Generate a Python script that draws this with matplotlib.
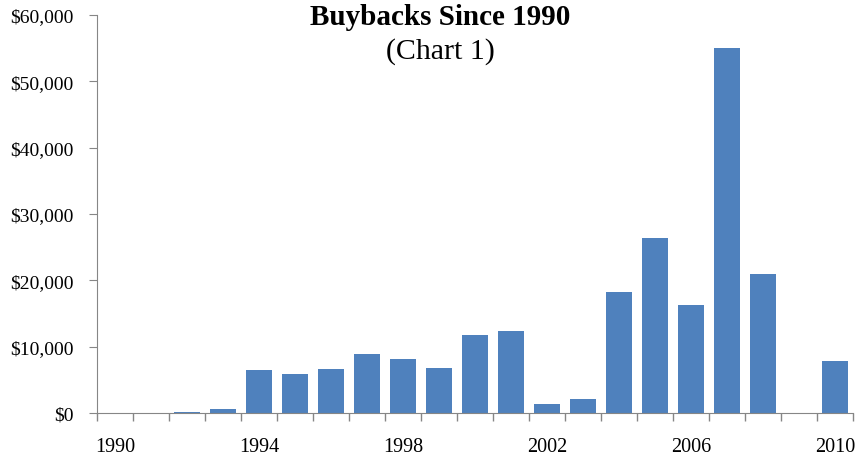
import numpy as np
import matplotlib.pyplot as plt
from matplotlib.ticker import FuncFormatter

# Buybacks per year
years = list(range(1990, 2011))
buybacks = [0, 0, 200, 600, 6500, 5900, 6600, 8900, 8100, 6800,
            11700, 12300, 1300, 2100, 18300, 26400, 16300, 55000, 21000, 0, 7800]
label_years = [1990, 1994, 1998, 2002, 2006, 2010]

plt.rcParams['font.family'] = ['Liberation Serif', 'DejaVu Serif']

fig = plt.figure(figsize=(8.59, 4.56), dpi=100)
ax = fig.add_axes([0.1129, 0.0921, 0.8801, 0.8729])

x = np.arange(len(years))
ax.bar(x, buybacks, width=0.7, color='#4F81BD')

ax.set_xlim(-0.5, len(years) - 0.5)
ax.set_ylim(0, 60000)
ax.set_yticks(range(0, 60001, 10000))
ax.yaxis.set_major_formatter(FuncFormatter(lambda v, p: f'${v:,.0f}'))

# category boundaries get tick marks, labels every 4 years
ax.set_xticks([years.index(y) for y in label_years])
ax.set_xticklabels([str(y) for y in label_years])
ax.set_xticks(np.arange(-0.5, len(years)), minor=True)
ax.tick_params(axis='x', which='major', length=0, pad=17, labelsize=14.5)
ax.tick_params(axis='x', which='minor', length=6, color='#868686', width=1)
ax.tick_params(axis='y', length=6, color='#868686', pad=11, labelsize=14)

for side in ['top', 'right']:
    ax.spines[side].set_visible(False)
for side in ['left', 'bottom']:
    ax.spines[side].set_color('#868686')

fig.text(0.513, 0.945, 'Buybacks Since 1990', ha='center', fontsize=21,
         fontweight='bold')
fig.text(0.513, 0.871, '(Chart 1)', ha='center', fontsize=21.5)

plt.savefig('out.png', dpi=100)
